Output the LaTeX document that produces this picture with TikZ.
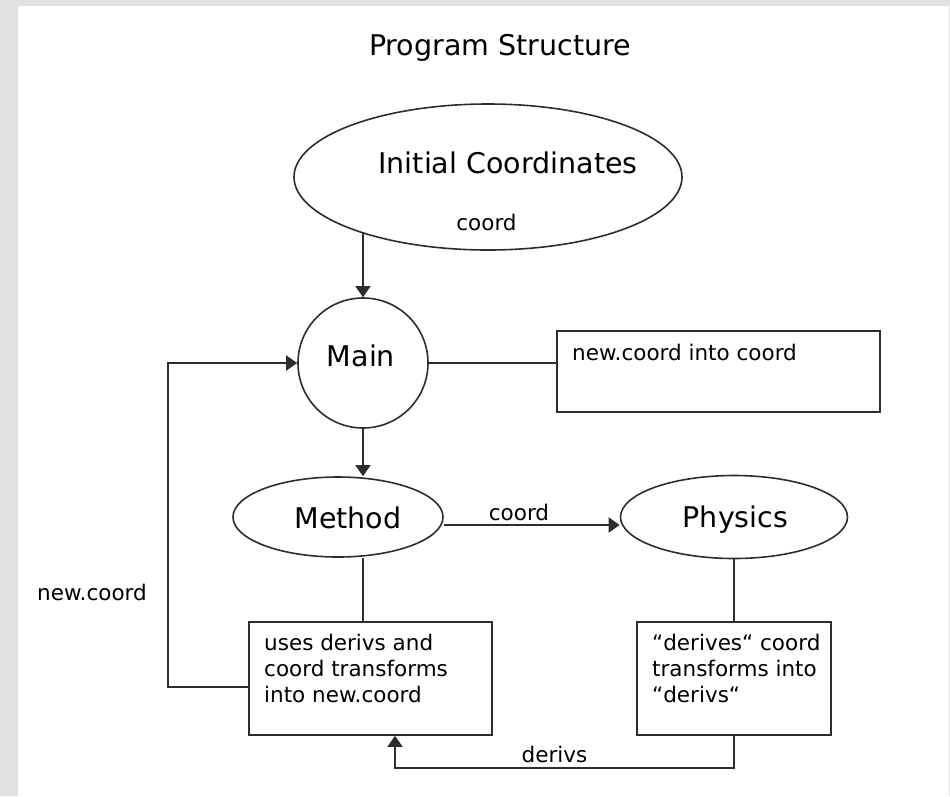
\documentclass[tikz,border=0pt]{standalone}
\usepackage{fontspec}
\setmainfont{DejaVu Sans}
\usetikzlibrary{shapes.geometric,arrows.meta}
\definecolor{bggray}{RGB}{225,225,225}
\definecolor{ink}{RGB}{45,45,45}
\tikzset{
  bigtxt/.style={font=\fontsize{28.5}{34}\selectfont, text=black, inner sep=0, anchor=base},
  smalltxt/.style={font=\fontsize{21.5}{26}\selectfont, text=black, inner sep=0, anchor=base},
  linetxt/.style={font=\fontsize{21.5}{26}\selectfont, text=black, inner sep=0, anchor=base west},
  shp/.style={draw=ink, line width=1.6pt, inner sep=0},
  ln/.style={draw=ink, line width=1.6pt},
  arr/.style={ln, -{Triangle[length=11pt,width=15pt]}},
}
\begin{document}
\begin{tikzpicture}[x=1pt,y=-1pt]
\path[use as bounding box, fill=bggray] (0,0) rectangle (950,796);
\fill[white] (18,6) rectangle (949,796);

% title
\node[bigtxt] (title) at (500,55) {Program Structure};

% shapes
\node[shp, ellipse, minimum width=388, minimum height=146] (init) at (488,177) {};
\node[shp, circle, minimum size=130] (main) at (363,363) {};
\node[shp, ellipse, minimum width=210, minimum height=80] (method) at (338,517) {};
\node[shp, ellipse, minimum width=227, minimum height=83] (physics) at (734,517) {};
\node[shp, rectangle, minimum width=323, minimum height=81] (newbox) at (718.5,371.5) {};
\node[shp, rectangle, minimum width=243, minimum height=113] (usebox) at (370.5,678.5) {};
\node[shp, rectangle, minimum width=194, minimum height=113] (derbox) at (734,678.5) {};

% texts in shapes
\node[bigtxt] (initlbl) at (508,173) {Initial Coordinates};
\node[smalltxt] (initcoord) at (486.5,230) {coord};
\node[bigtxt] (mainlbl) at (361,366) {Main};
\node[bigtxt] (methodlbl) at (348,528) {Method};
\node[bigtxt] (physicslbl) at (735.5,527) {Physics};
\node[linetxt] (newtxt) at (572,360) {new.coord into coord};
\node[linetxt] (use1) at (264,650) {uses derivs and};
\node[linetxt] (use2) at (264,676) {coord transforms};
\node[linetxt] (use3) at (264,702) {into new.coord};
\node[linetxt] (der1) at (652,650) {“derives“ coord};
\node[linetxt] (der2) at (652,676) {transforms into};
\node[linetxt] (der3) at (652,702) {“derivs“};

% connectors
\draw[arr] (main.north |- init.204) -- (main.north);
\draw[ln] (main.east) -- (main.east -| newbox.west);
\draw[arr] (main.south) -- (main.south |- method.north);
\draw[arr] ([yshift=-8pt]method.east) -- ([yshift=-8pt]physics.west);
\node[smalltxt] (coordlbl) at (519,520) {coord};
\draw[ln] (main.south |- method.south) -- (main.south |- usebox.north);
\draw[ln] (physics.south) -- (physics.south |- derbox.north);
\draw[arr] ([yshift=-8.5pt]usebox.west) -- ++(-80,0) |- (main.west);
\node[linetxt] (newcoordlbl) at (37,600) {new.coord};
\draw[arr] (derbox.south) -- ++(0,32) -| ([xshift=24.5pt]usebox.south);
\node[smalltxt] (derivslbl) at (554.5,762) {derivs};
\end{tikzpicture}
\end{document}
